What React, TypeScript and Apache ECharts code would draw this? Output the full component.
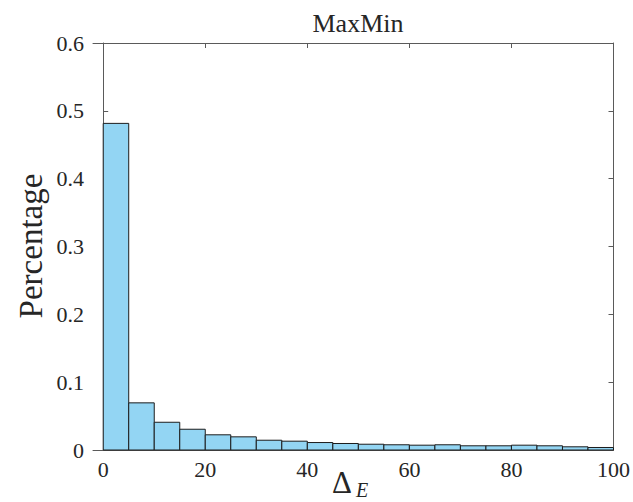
import React, { useEffect, useRef } from "react";
import * as echarts from "echarts";

const binEdges = [0, 5, 10, 15, 20, 25, 30, 35, 40, 45, 50, 55, 60, 65, 70, 75, 80, 85, 90, 95, 100];
const binValues = [
  0.4815, 0.0695, 0.0409, 0.0306, 0.0224, 0.0194, 0.0144, 0.013, 0.011, 0.0096,
  0.0085, 0.0077, 0.0071, 0.0077, 0.0062, 0.0062, 0.0071, 0.0062, 0.0047, 0.0037,
];
const xTicks = [0, 20, 40, 60, 80, 100];
const yTicks = [0, 0.1, 0.2, 0.3, 0.4, 0.5, 0.6];
const titleText = "MaxMin";
const yName = "Percentage";

const FONT = "Liberation Serif";
const AXIS = "#5a5a5a";
const TXT = "#262626";

export default function App() {
  const ref = useRef<HTMLDivElement>(null);
  useEffect(() => {
    if (!ref.current) return;
    const chart = echarts.init(ref.current, undefined, { renderer: "svg" });
    const data = binValues.map((v, i) => [binEdges[i], binEdges[i + 1], v]);
    const gridL = 93, gridR = 19, gridT = 43, gridB = 52;
    chart.setOption({
      animation: false,
      backgroundColor: "#ffffff",
      textStyle: { fontFamily: FONT },
      title: {
        text: titleText,
        left: 353,
        top: 5,
        textAlign: "center",
        textStyle: { fontFamily: FONT, fontSize: 26, fontWeight: "normal", color: TXT },
      },
      grid: { left: gridL, right: gridR, top: gridT, bottom: gridB },
      xAxis: [
        {
          type: "value",
          min: -2,
          max: 100,
          axisLine: { show: true, lineStyle: { color: AXIS, width: 1 } },
          axisTick: { show: true, inside: true, length: 5, customValues: xTicks, lineStyle: { color: AXIS } },
          axisLabel: {
            customValues: xTicks,
            margin: 8,
            fontFamily: FONT,
            fontSize: 22,
            color: TXT,
          },
          splitLine: { show: false },
        },
        {
          type: "value",
          position: "top",
          min: -2,
          max: 100,
          axisLine: { show: true, onZero: false, lineStyle: { color: AXIS, width: 1 } },
          axisTick: { show: true, inside: true, length: 5, customValues: xTicks, lineStyle: { color: AXIS } },
          axisLabel: { show: false },
          splitLine: { show: false },
        },
      ],
      yAxis: [
        {
          type: "value",
          min: 0,
          max: 0.6,
          interval: 0.1,
          axisLine: { show: true, lineStyle: { color: AXIS, width: 1 } },
          axisTick: { show: true, inside: true, length: 5, lineStyle: { color: AXIS } },
          axisLabel: {
            margin: 9,
            fontFamily: FONT,
            fontSize: 22,
            color: TXT,
            formatter: (v: number) => (v === 0 ? "0" : v.toFixed(1)),
          },
          splitLine: { show: false },
        },
        {
          type: "value",
          position: "right",
          min: 0,
          max: 0.6,
          interval: 0.1,
          axisLine: { show: true, onZero: false, lineStyle: { color: AXIS, width: 1 } },
          axisTick: { show: true, inside: true, length: 5, lineStyle: { color: AXIS } },
          axisLabel: { show: false },
          splitLine: { show: false },
        },
      ],
      series: [
        {
          type: "custom",
          xAxisIndex: 0,
          yAxisIndex: 0,
          data,
          renderItem: (params: any, api: any) => {
            const x0 = api.value(0);
            const x1 = api.value(1);
            const v = api.value(2);
            const p0 = api.coord([x0, v]);
            const p1 = api.coord([x1, 0]);
            return {
              type: "rect",
              shape: { x: p0[0], y: p0[1], width: p1[0] - p0[0], height: p1[1] - p0[1] },
              style: { fill: "#93d5f3", stroke: "#1c1c1c", lineWidth: 1 },
            };
          },
        },
      ],
      graphic: [
        {
          type: "text",
          x: 31,
          y: 246,
          rotation: Math.PI / 2,
          style: {
            text: yName,
            fontFamily: FONT,
            fontSize: 33,
            fill: TXT,
            textAlign: "center",
            textVerticalAlign: "middle",
          },
        },
        {
          type: "text",
          x: 332,
          y: 482,
          style: {
            text: "Δ",
            fontFamily: FONT,
            fontSize: 31,
            fill: TXT,
            textAlign: "left",
            textVerticalAlign: "middle",
          },
        },
        {
          type: "text",
          x: 356,
          y: 490,
          style: {
            text: "E",
            fontFamily: FONT,
            fontSize: 20,
            fontStyle: "italic",
            fill: TXT,
            textAlign: "left",
            textVerticalAlign: "middle",
          },
        },
      ],
    });
    return () => chart.dispose();
  }, []);
  return <div ref={ref} style={{ width: 633, height: 502, position: "absolute", left: 0, top: 0 }} />;
}
